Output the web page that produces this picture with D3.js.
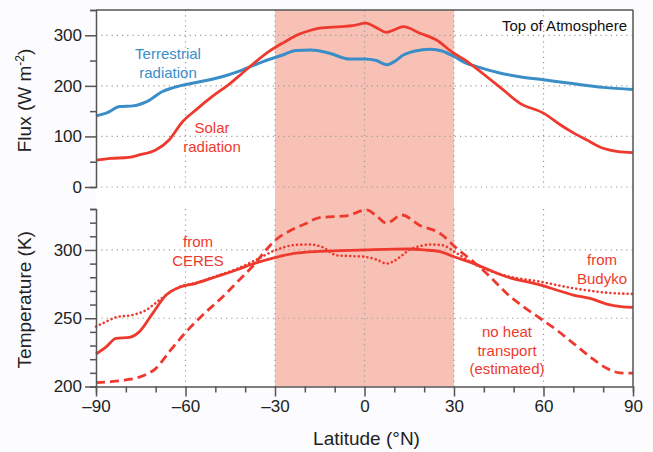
<!DOCTYPE html>
<html><head><meta charset="utf-8">
<script src="https://cdn.jsdelivr.net/npm/d3@7"></script>
<style>
body{margin:0;background:#fcfcfe;}
svg{display:block;font-family:"Liberation Sans",Arial,Helvetica,sans-serif;}
</style></head><body>
<svg id="c" width="653" height="452"></svg>
<script>
// ---- data ----
const solarLat = [-90,-85,-79,-75.5,-70,-65.5,-61,-56.5,-51,-45,-41,-36.4,-32,-27,-22,-18,-15,-8,-4,0.5,4,7.4,10,13,18.6,24,29.8,34,38,41,46.5,52,60,65.6,70,74.5,80,85,90];
const solarFlux = [53,56.5,58.7,63.4,73,93,129,152.5,179,205,225,248,268,286,302,310,314,317,319,324,315,305.6,311,317,304,291,265,250,232,218,192,166,146,123,107,93,76.6,70,68];
const terrLat = [-90,-86.6,-82,-77.7,-73,-67.7,-62,-56.5,-47.5,-40.8,-34,-27.4,-23,-18,-12,-5,0,4,7.5,10,13,17,22,26,30,34,37.6,45,52,60,69,80,90];
const terrestrialFlux = [140.6,146,159,160.4,169,188.8,200,206.5,218.4,231.7,248,261,270,271,265,253,253,250,241.6,248,261,269,272.6,269,258,245,238,226,218,212,205,197,193];

const ceresLat = [-90,-86.6,-83.3,-78.8,-75.5,-71,-66.5,-62,-56.5,-49.8,-43,-37.5,-29.7,-23,-15,0,10,15,20,25.3,30,36.5,47.6,58.8,64.4,70,75.6,81.2,86,90];
const ceresT = [223.8,229,235.3,236,240,253.6,267,272.7,275.6,280.4,285.3,289.7,294.6,297.6,299,300,300.6,300.7,300,298.8,295,290.2,280.4,274.4,270.7,267,264.6,260.4,258.5,258];
const budykoLat = [-90,-86.6,-83.3,-77.7,-73.2,-69.5,-66.5,-62,-56.5,-49.8,-43,-36.4,-29.7,-23,-18.3,-14,-9.3,-4,0,4,7.4,10,12,15,19,22,26,30.9,36.5,47.6,58.8,70,81.2,90];
const budykoT = [243.8,247.5,250.7,252.4,256,262,267,272.9,275.9,280.8,286,292.7,300,303.7,304,302,296,295.5,295,293,290,292,295,300,303,304,303.5,297.6,290,281,276.8,272,268.7,267.8];
const noTransLat = [-90,-85,-80,-74.4,-69.9,-65.4,-59.8,-54.2,-47.5,-42,-36.5,-33,-29.7,-25,-20,-15,-6,0.7,4,7.4,12.5,18.6,25.3,30.9,36.5,42.1,47.6,53.2,58.8,64.4,70,75.6,81.2,85.6,90];
const noTransportT = [202.8,203.5,204.8,207.7,213.3,225.5,240,252.4,265.8,278,290.5,300,307.5,314,319,323.7,325,329.3,325,319.6,325.6,318,312.2,301.2,291.4,280.4,268.3,258.5,250,241.4,231.6,221.8,213.3,210,209.7];

const xTicks = [-90,-60,-30,0,30,60,90];
const fluxTicks = [0,100,200,300];
const tempTicks = [200,250,300];

// ---- layout ----
const svg = d3.select("#c");
const L = 96, R = 633;
const topY0 = 10, topY1 = 187;
const botY0 = 209, botY1 = 386.5;
const red = "#ee3a2e", blue = "#3a8ec7", pink = "#f8c1b5", grid = "#9a9a9a";

const x = d3.scaleLinear().domain([-90,90]).range([L,R]);
const yF = d3.scaleLinear().domain([0,350]).range([topY1,topY0]);
const yT = d3.scaleLinear().domain([200,330]).range([botY1,botY0]);

svg.append("rect").attr("x",0).attr("y",0).attr("width",653).attr("height",452).attr("fill","#fcfcfe");
svg.append("rect").attr("x",L).attr("y",topY0).attr("width",R-L).attr("height",botY1-topY0).attr("fill","#fff");
svg.append("rect").attr("x",x(-30)).attr("y",topY0).attr("width",x(30)-x(-30)).attr("height",botY1-topY0).attr("fill",pink);

const dotted = "1.2,4";
[-60,-30,0,30,60].forEach(v=>{
  svg.append("line").attr("x1",x(v)).attr("x2",x(v)).attr("y1",topY0).attr("y2",topY1)
    .attr("stroke",grid).attr("stroke-width",1.2).attr("stroke-dasharray",dotted);
  svg.append("line").attr("x1",x(v)).attr("x2",x(v)).attr("y1",botY0).attr("y2",botY1)
    .attr("stroke",grid).attr("stroke-width",1.2).attr("stroke-dasharray",dotted);
});
fluxTicks.forEach(v=>{
  svg.append("line").attr("x1",L).attr("x2",R).attr("y1",yF(v)).attr("y2",yF(v))
    .attr("stroke",grid).attr("stroke-width",1.2).attr("stroke-dasharray",dotted);
});
[250,300].forEach(v=>{
  svg.append("line").attr("x1",L).attr("x2",R).attr("y1",yT(v)).attr("y2",yT(v))
    .attr("stroke",grid).attr("stroke-width",1.2).attr("stroke-dasharray",dotted);
});

const curve = d3.curveMonotoneX;
const lineF = d3.line().curve(curve).x(d=>x(d[0])).y(d=>yF(d[1]));
const lineT = d3.line().curve(curve).x(d=>x(d[0])).y(d=>yT(d[1]));
const zip = (a,b)=>a.map((v,i)=>[v,b[i]]);

svg.append("path").datum(zip(terrLat,terrestrialFlux)).attr("d",lineF)
  .attr("fill","none").attr("stroke",blue).attr("stroke-width",3);
svg.append("path").datum(zip(solarLat,solarFlux)).attr("d",lineF)
  .attr("fill","none").attr("stroke",red).attr("stroke-width",2.8);

svg.append("path").datum(zip(noTransLat,noTransportT)).attr("d",lineT)
  .attr("fill","none").attr("stroke",red).attr("stroke-width",2.8).attr("stroke-dasharray","9,5");
svg.append("path").datum(zip(budykoLat,budykoT)).attr("d",lineT)
  .attr("fill","none").attr("stroke",red).attr("stroke-width",2.6).attr("stroke-dasharray","0.1,4.2").attr("stroke-linecap","round");
svg.append("path").datum(zip(ceresLat,ceresT)).attr("d",lineT)
  .attr("fill","none").attr("stroke",red).attr("stroke-width",2.8);

// frame
const axc = "#555";
svg.append("line").attr("x1",L).attr("x2",R).attr("y1",topY0).attr("y2",topY0).attr("stroke",axc).attr("stroke-width",1.5);
svg.append("line").attr("x1",R).attr("x2",R).attr("y1",topY0).attr("y2",botY1).attr("stroke",axc).attr("stroke-width",1.5);

// axes
const fontSize = "17px";
const yAxF = svg.append("g").attr("transform",`translate(${L},0)`)
  .call(d3.axisLeft(yF).tickValues(d3.range(0,351,50)).tickSize(6).tickFormat(d=>fluxTicks.includes(d)?d:""));
const yAxT = svg.append("g").attr("transform",`translate(${L},0)`)
  .call(d3.axisLeft(yT).tickValues(d3.range(200,331,10)).tickSize(6).tickFormat(d=>tempTicks.includes(d)?d:""));
const xAx = svg.append("g").attr("transform",`translate(0,${botY1})`)
  .call(d3.axisBottom(x).tickValues(d3.range(-90,91,10)).tickSize(6).tickFormat(d=>xTicks.includes(d)?(d<0?"\u2013"+(-d):d):""));

[yAxF,yAxT,xAx].forEach(g=>{
  g.select(".domain").attr("stroke",axc).attr("stroke-width",1.5);
  g.selectAll(".tick line").attr("stroke",axc).attr("stroke-width",1.5);
  g.selectAll(".tick text").attr("fill","#222").style("font-size",fontSize).style("font-family","'Liberation Sans',Arial,sans-serif");
});
yAxF.selectAll(".tick").filter(d=>fluxTicks.includes(d)).select("line").attr("x2",-11);
yAxT.selectAll(".tick").filter(d=>tempTicks.includes(d)).select("line").attr("x2",-11);
xAx.selectAll(".tick").filter(d=>xTicks.includes(d)).select("line").attr("y2",10);
yAxF.selectAll(".tick text").attr("x",-14);
yAxT.selectAll(".tick text").attr("x",-14);
xAx.selectAll(".tick text").attr("y",13);

// axis titles
svg.append("text").attr("transform",`translate(31,${(topY0+topY1)/2+2}) rotate(-90)`).attr("text-anchor","middle")
  .attr("fill","#222").style("font-size","19px").html('Flux (W m<tspan dy="-7" font-size="12">-2</tspan><tspan dy="7">)</tspan>');
svg.append("text").attr("transform",`translate(31,${(botY0+botY1)/2+2}) rotate(-90)`).attr("text-anchor","middle")
  .attr("fill","#222").style("font-size","19px").text("Temperature (K)");
svg.append("text").attr("x",x(0)+2).attr("y",445).attr("text-anchor","middle")
  .attr("fill","#222").style("font-size","19px").text("Latitude (°N)");

// annotations
function label(lines, cx, y0, color, size, anchor){
  const t = svg.append("text").attr("text-anchor",anchor||"middle").attr("fill",color).style("font-size",size||"15px");
  lines.forEach((s,i)=>t.append("tspan").attr("x",cx).attr("y",y0+i*18.5).text(s));
}
label(["Top of Atmosphere"],627,31,"#111","15px","end");
label(["Terrestrial","radiation"],168,59,blue,"15px");
label(["Solar","radiation"],212,133,red,"15px");
label(["from","CERES"],198,247,red,"15px");
label(["from","Budyko"],602,265,red,"15px");
label(["no heat","transport","(estimated)"],507,337,red,"15px");
</script>
</body></html>
